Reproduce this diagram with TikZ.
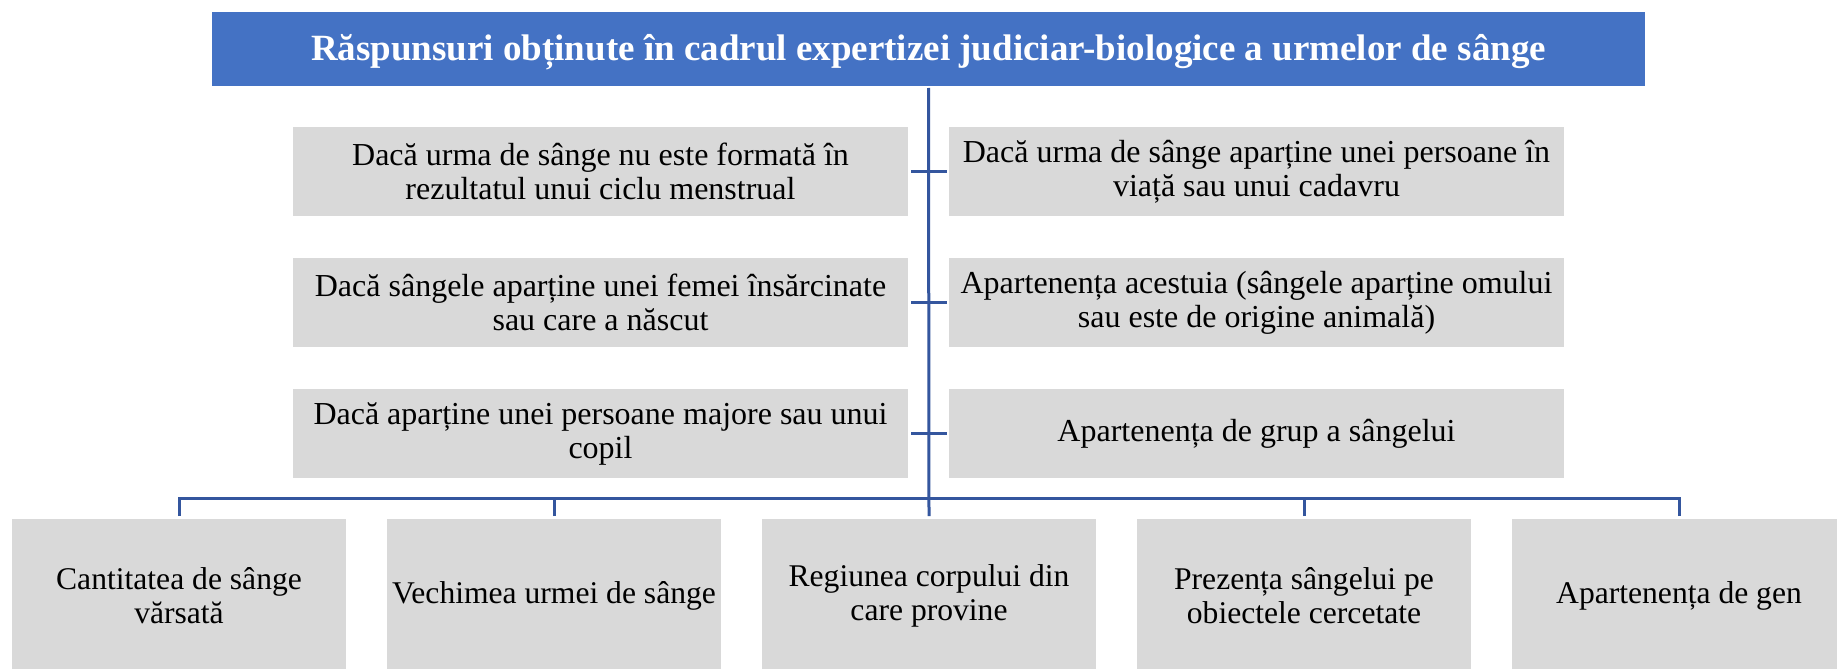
\documentclass[tikz,border=0pt]{standalone}
\usepackage{fontspec}
\setmainfont{Liberation Serif}
\definecolor{hdrblue}{RGB}{68,114,196}
\definecolor{boxgray}{RGB}{217,217,217}
\definecolor{linkblue}{RGB}{52,86,158}
\tikzset{
  hdr/.style={fill=hdrblue, text=white, inner sep=0pt, outer sep=0pt,
    minimum width=1433pt, minimum height=74pt,
    font=\fontsize{37}{42}\selectfont\bfseries},
  sidebox/.style={fill=boxgray, inner sep=0pt, outer sep=0pt, align=center,
    minimum width=615pt, minimum height=89pt,
    font=\fontsize{32}{34}\selectfont},
  basebox/.style={fill=boxgray, inner sep=0pt, outer sep=0pt, align=center,
    minimum width=334pt, minimum height=154pt,
    font=\fontsize{31.6}{34}\selectfont},
  conn/.style={draw=linkblue, line width=3pt}
}
\begin{document}
\begin{tikzpicture}[x=1pt,y=-1pt]
\clip (0,0) rectangle (1837,669);
\fill[white] (0,0) rectangle (1837,669);
% header
\node[hdr] (h) at (928.5,49) {\raisebox{-3pt}[\height][\depth]{Răspunsuri obținute în cadrul expertizei judiciar-biologice a urmelor de sânge}};
% left column
\node[sidebox] (l1) at (600.5,171.5) {Dacă urma de sânge nu este formată în\\rezultatul unui ciclu menstrual};
\node[sidebox] (l2) at (600.5,302.5) {Dacă sângele aparține unei femei însărcinate\\sau care a născut};
\node[sidebox] (l3) at (600.5,433.5) {Dacă aparține unei persoane majore sau unui\\copil};
% right column
\node[sidebox] (r1) at (1256.5,171.5) {Dacă urma de sânge aparține unei persoane în\\viață sau unui cadavru};
\node[sidebox] (r2) at (1256.5,302.5) {Apartenența acestuia (sângele aparține omului\\sau este de origine animală)};
\node[sidebox] (r3) at (1256.5,433.5) {Apartenența de grup a sângelui};
% bottom row
\node[basebox] (b1) at (179,596) {Cantitatea de sânge\\vărsată};
\node[basebox] (b2) at (554,596) {Vechimea urmei de sânge};
\node[basebox] (b3) at (929,596) {Regiunea corpului din\\care provine};
\node[basebox] (b4) at (1304,596) {Prezența sângelui pe\\obiectele cercetate};
\node[basebox] (b5) at (1679,596) {Apartenența de gen};
% connectors
\coordinate (bus) at (929,498);
\draw[conn] ([yshift=-2pt]h.south) -- ([yshift=3pt]b3.north);
\foreach \i in {1,2,3}{
  \draw[conn] ([xshift=3pt]l\i.east) -- ([xshift=-2pt]r\i.west);
}
\foreach \i in {1,2,4,5}{
  \draw[conn] ([yshift=3pt]b\i.north) |- (bus);
}
\end{tikzpicture}
\end{document}
